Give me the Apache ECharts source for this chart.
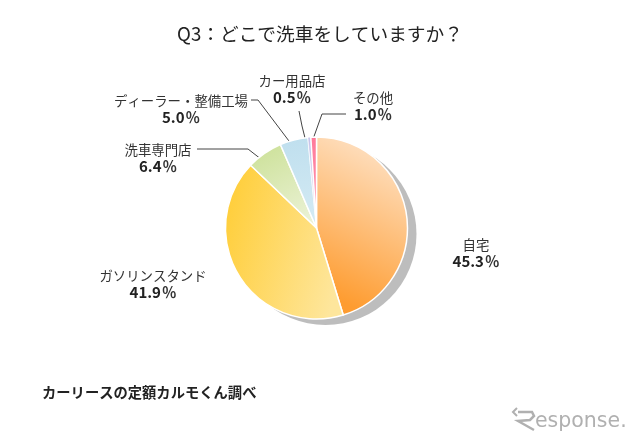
<!DOCTYPE html>
<html>
<head>
<meta charset="utf-8">
<script src="https://cdn.jsdelivr.net/npm/echarts@6/dist/echarts.min.js"></script>
<style>
  html, body { margin: 0; padding: 0; background: #fff; }
  #main { width: 640px; height: 443px; }
</style>
</head>
<body>
<div id="main"></div>
<script>
var categories = ['自宅', 'ガソリンスタンド', '洗車専門店', 'ディーラー・整備工場', 'カー用品店', 'その他'];
var shares = [45.3, 41.9, 6.4, 5.0, 0.5, 1.0];

var font = '"Noto Sans CJK JP", "Noto Sans", sans-serif';

// gradient per slice: x, y, x2, y2, from, to
var sliceFills = [
  [1, 0.1, 0.2, 0.9, '#fee3c8', '#fe9c30'],
  [0, 0.4, 1, 0.6, '#ffcf3e', '#fee69c'],
  [0.3, 0.1, 0.9, 1, '#d0e3a0', '#edf3da'],
  [0.4, 0, 0.7, 1, '#bfdfee', '#d5ebf4'],
  [0, 0, 0, 1, '#c6c3ea', '#dcdaf2'],
  [0, 0, 0, 1, '#ff7a9a', '#ff9ab2']
];

// label centre + leader line for each slice
var labelSpots = [
  { x: 476, y: 253 },
  { x: 153, y: 284 },
  { x: 158, y: 158, line: [[197, 149], [248, 149], [266, 163]] },
  { x: 181, y: 109, line: [[251, 100], [258, 100], [292, 145]] },
  { x: 292, y: 89, line: [[299, 111], [302, 126], [306, 142]] },
  { x: 373, y: 106, line: [[346, 114], [322, 114], [312, 142]] }
];

var sliceData = categories.map(function (name, i) {
  var f = sliceFills[i];
  return {
    name: name,
    value: shares[i],
    itemStyle: {
      // thin border on the smallest slice or it disappears
      borderWidth: shares[i] < 1 ? 0.4 : 1.5,
      color: new echarts.graphic.LinearGradient(f[0], f[1], f[2], f[3], [
        { offset: 0, color: f[4] },
        { offset: 1, color: f[5] }
      ])
    },
    labelLine: { show: !!labelSpots[i].line }
  };
});

var chart = echarts.init(document.getElementById('main'), null, { renderer: 'canvas' });

chart.setOption({
  backgroundColor: '#fff',
  animation: false,
  title: {
    text: 'Q3：どこで洗車をしていますか？',
    left: 315,
    top: 20,
    textAlign: 'center',
    textStyle: { fontFamily: font, fontSize: 18.7, fontWeight: 400, color: '#222' }
  },
  series: [
    {
      // grey drop shadow behind the pie
      type: 'pie',
      silent: true,
      radius: 91,
      center: [325.5, 234],
      label: { show: false },
      labelLine: { show: false },
      itemStyle: { color: '#bdbdbd' },
      data: [{ name: 'shadow', value: 1 }]
    },
    {
      type: 'pie',
      radius: 91,
      center: [316.5, 228],
      startAngle: 90,
      clockwise: true,
      minAngle: 0,
      data: sliceData,
      itemStyle: { borderColor: '#fff' },
      label: {
        show: true,
        formatter: function (p) {
          return '{n|' + p.name + '}\n{v|' + p.value.toFixed(1) + '}{p|％}';
        },
        align: 'center',
        rich: {
          n: { fontFamily: font, fontSize: 13.4, color: '#333', lineHeight: 17, align: 'center' },
          v: { fontFamily: font, fontSize: 15, fontWeight: 700, color: '#222', lineHeight: 17 },
          p: { fontFamily: font, fontSize: 14.5, fontWeight: 700, color: '#333', lineHeight: 17, padding: [0, 0, 0, 1] }
        }
      },
      labelLine: { show: true, lineStyle: { color: '#444', width: 1 } },
      labelLayout: function (p) {
        var s = labelSpots[p.dataIndex];
        return {
          x: s.x,
          y: s.y,
          align: 'center',
          verticalAlign: 'middle',
          labelLinePoints: s.line
        };
      }
    }
  ],
  graphic: [
    {
      type: 'text',
      left: 42,
      top: 385,
      style: {
        text: 'カーリースの定額カルモくん調べ',
        fontFamily: font,
        fontSize: 14.3,
        fontWeight: 700,
        fill: '#222',
        shadowColor: 'rgba(0,0,0,0.45)',
        shadowBlur: 2
      }
    },
    {
      // logo mark
      type: 'polyline',
      shape: { points: [[518, 412], [532, 412], [534, 416], [530, 420], [518, 421], [534, 430]] },
      style: { stroke: '#b0b0b0', lineWidth: 2.5, fill: null }
    },
    {
      type: 'polyline',
      shape: { points: [[517, 408], [513, 412], [517, 416]] },
      style: { stroke: '#b0b0b0', lineWidth: 2, fill: null }
    },
    {
      type: 'text',
      left: 535,
      top: 411,
      style: {
        text: 'esponse.',
        fontFamily: '"DejaVu Sans", sans-serif',
        fontSize: 20.5,
        fill: '#b0b0b0'
      }
    }
  ]
});
</script>
</body>
</html>
